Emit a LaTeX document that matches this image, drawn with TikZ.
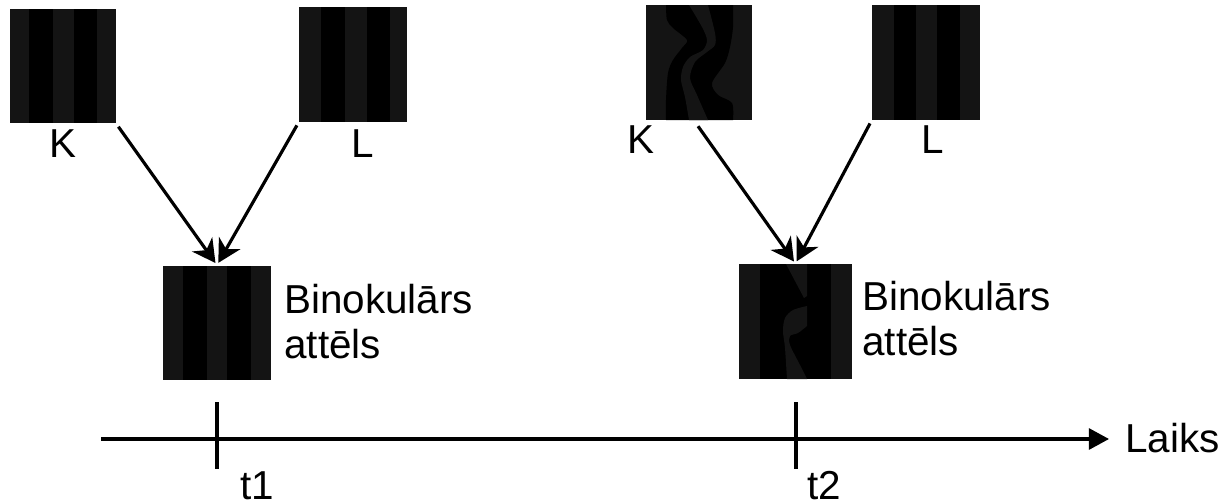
\documentclass[tikz,border=0pt]{standalone}
\usepackage{fontspec}
\setmainfont{Liberation Sans}
\usetikzlibrary{arrows.meta}
\definecolor{stripegray}{HTML}{141414}

\begin{document}
\begin{tikzpicture}[x=0.02cm,y=-0.02cm,
			imgbox/.style={fill=stripegray,inner sep=0pt,minimum height=2.3cm},
			pointer/.style={line width=1.8pt,shorten >=1.5pt,shorten <=2pt,-{Stealth[length=13pt,width=14pt,inset=4pt]}},
			axisline/.style={line width=1.8pt},
			lbl/.style={inner sep=0pt,anchor=base west,font=\fontsize{23}{25.6}\selectfont}]
			\useasboundingbox (0,0) rectangle (1228,504);

			% the six pictures
			\node[imgbox,minimum width=2.12cm] (k1) at (63,66) {};
			\node[imgbox,minimum width=2.16cm] (l1) at (353,64.5) {};
			\node[imgbox,minimum width=2.16cm] (b1) at (217,323) {};
			\node[imgbox,minimum width=2.12cm] (k2) at (699,62.5) {};
			\node[imgbox,minimum width=2.16cm] (l2) at (926,62.5) {};
			\node[imgbox,minimum width=2.26cm] (b2) at (795.5,321.5) {};

			% straight dark bars
			\foreach \xa/\xb/\ya/\yb in {29/53/9/123,74/97/9/123,
				321/345/7/122,367/390/7/122,
				183/207/266/380,227/251/266/380,
				894/916/5/120,937/960/5/120,
				760/831/264/379}
				\fill[black] (\xa,\ya) rectangle (\xb,\yb);

			% bent bars of the left image at t2
			\fill[black] plot[smooth,tension=0.5] coordinates {(666,5) (667,20) (673,28) (687,40) (682,48) (673,60) (668,73) (666,100) (666,120)}
				-- plot[smooth,tension=0.5] coordinates {(733,120) (732,103) (718,95) (712,83) (725,63) (730,47) (733,27) (733,5)} -- cycle;
			\fill[stripegray] plot[smooth,tension=0.5] coordinates {(689,5) (702,27) (707,40) (703,50) (690,57) (683,67) (681,80) (685,97) (689,120)}
				-- plot[smooth,tension=0.5] coordinates {(708,120) (697,95) (690,78) (695,62) (707,52) (715,45) (715,33) (708,5)} -- cycle;

			% what is left of the light bar in the merged image
			\fill[stripegray] (786,264) -- (807,264) -- (807,296) -- (804,298) -- cycle;
			\fill[stripegray] plot[smooth,tension=0.5] coordinates {(807,306) (793,310) (785,318) (783,331) (785,348) (787,379)}
				-- plot[smooth,tension=0.5] coordinates {(807,379) (800,365) (790,345) (790,336) (798,333) (807,326)} -- cycle;

			% image labels
			\node[lbl] (k1txt) at (49,157) {K};
			\node[lbl] (l1txt) at (351,157) {L};
			\node[lbl] (k2txt) at (627,153) {K};
			\node[lbl] (l2txt) at (921,153) {L};
			\node[lbl,align=left] (b1txt) at (284,358) {Binokulārs\\attēls};
			\node[lbl,align=left] (b2txt) at (862,355) {Binokulārs\\attēls};

			% arrows into the merged images
			\draw[pointer] (k1.south east) -- (b1.north);
			\draw[pointer] (l1.south west) -- (b1.north);
			\draw[pointer] (k2.south) ++(-3,3) coordinate (k2out) (k2out) -- (b2.north);
			\draw[pointer] (l2.south west) -- (b2.north);

			% time axis
			\coordinate (axisstart) at (101,439);
			\node[lbl] (laiks) at (1125,452) {Laiks};
			\coordinate (axisend) at (1109,439);
			\draw[axisline,-{Triangle[length=11.5pt,width=12pt]}] (axisstart) -- (axisend);
			\coordinate (t1top) at (217,402);
			\coordinate (t1bot) at (217,469);
			\coordinate (t2top) at (796,402);
			\coordinate (t2bot) at (796,469);
			\draw[axisline] (t1top) -- (t1bot);
			\draw[axisline] (t2top) -- (t2bot);
			\node[lbl] (t1txt) at (240,499) {t1};
			\node[lbl] (t2txt) at (807,499) {t2};
			\end{tikzpicture}
\end{document}
